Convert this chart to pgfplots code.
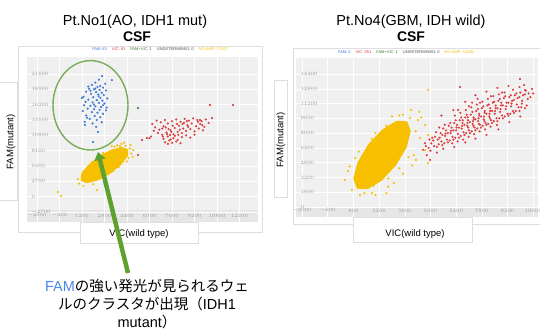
\documentclass[border=0pt]{standalone}
\usepackage{pgfplots}
\pgfplotsset{compat=1.18}
\usetikzlibrary{arrows.meta}
\usepackage{fontspec}
\setmainfont{Liberation Sans}
\newfontfamily\jp{Noto Sans CJK JP}
\definecolor{famblue}{HTML}{3C78D8}
\definecolor{vicred}{HTML}{E0393B}
\definecolor{noamp}{HTML}{F6C000}
\definecolor{fvgreen}{HTML}{3E7B2A}
\definecolor{annot}{HTML}{5DA130}
\definecolor{ellcol}{HTML}{78AD5A}
\definecolor{plotbg}{HTML}{F0F0F0}
\definecolor{bandbg}{HTML}{E6E6E6}
\definecolor{ticklab}{HTML}{9A9A9A}
\definecolor{cardline}{HTML}{DEDEDE}
\definecolor{txtblue}{HTML}{4A86E8}

\pgfplotsset{ddpcr/.style={
  scale only axis,
  axis line style={draw=none},
  major tick length=0pt,
  grid=major,
  grid style={white, line width=0.5pt},
  scaled ticks=false,
  tick label style={font=\fontsize{3.5}{4}\selectfont, text=ticklab},
  /pgf/number format/1000 sep={},
  yticklabel style={anchor=west, xshift=1pt},
  xticklabel style={anchor=south, yshift=1pt},
  clip=true},
  dot/.style={only marks, mark=*, mark size=0.85pt, color=#1, mark options={draw=none, fill=#1}}
}

\begin{document}
\begin{tikzpicture}
\useasboundingbox (0pt,0pt) rectangle (540pt,332pt);

% titles
\node[anchor=base, font=\fontsize{14.5}{16}\selectfont] at (135pt,306pt) {Pt.No1(AO, IDH1 mut)};
\node[anchor=base, font=\fontsize{14}{16}\selectfont\bfseries] at (137pt,290pt) {CSF};
\node[anchor=base, font=\fontsize{14.5}{16}\selectfont] at (411pt,306pt) {Pt.No4(GBM, IDH wild)};
\node[anchor=base, font=\fontsize{14}{16}\selectfont\bfseries] at (411pt,290pt) {CSF};

% cards
\draw[cardline, fill=white, line width=0.5pt] (18pt,100pt) rectangle (262pt,286pt);
\draw[cardline, fill=white, line width=0.5pt] (293pt,108pt) rectangle (541pt,284pt);
\fill[plotbg] (27pt,110pt) rectangle (258pt,275pt);
\fill[bandbg] (27pt,110pt) rectangle (258pt,122pt);
\fill[plotbg] (296pt,115pt) rectangle (538pt,274pt);
\fill[bandbg] (296pt,115pt) rectangle (538pt,125pt);

% label boxes
\draw[cardline, fill=white, line width=0.5pt] (-1pt,132pt) rectangle (17pt,250pt);
\draw[cardline, fill=white, line width=0.5pt] (80pt,89pt) rectangle (198pt,110pt);
\draw[cardline, fill=white, line width=0.5pt] (274pt,135pt) rectangle (287pt,252pt);
\draw[cardline, fill=white, line width=0.5pt] (353pt,90pt) rectangle (472pt,115pt);

% legends
\node[font=\fontsize{4}{5}\selectfont] at (160pt,283pt) {\textcolor{famblue}{FAM: 63}\hspace{5pt}\textcolor{vicred}{VIC: 81}\hspace{5pt}\textcolor{fvgreen}{FAM+VIC: 1}\hspace{5pt}\textcolor{black!70}{UNDETERMINED: 0}\hspace{5pt}\textcolor{noamp}{NO-AMP: 17007}};
\node[font=\fontsize{4}{5}\selectfont] at (406pt,280pt) {\textcolor{famblue}{FAM: 0}\hspace{5pt}\textcolor{vicred}{VIC: 551}\hspace{5pt}\textcolor{fvgreen}{FAM+VIC: 1}\hspace{5pt}\textcolor{black!70}{UNDETERMINED: 0}\hspace{5pt}\textcolor{noamp}{NO-AMP: 15495}};

% axis labels
\node[rotate=90, font=\fontsize{9.5}{11}\selectfont] at (11pt,190pt) {FAM(mutant)};
\node[font=\fontsize{9.5}{11}\selectfont] at (139pt,98pt) {VIC(wild type)};
\node[rotate=90, font=\fontsize{9.5}{11}\selectfont] at (281pt,192pt) {FAM(mutant)};
\node[font=\fontsize{9.5}{11}\selectfont] at (415pt,98pt) {VIC(wild type)};

% ===== Left plot =====
\begin{axis}[ddpcr, at={(27pt,110pt)}, anchor=south west, width=231pt, height=165pt,
  xmin=-2711, xmax=13713, ymin=-4460, ymax=24600,
  xtick={-2000,-400,...,12400}, ytick={-2700,0,...,21600}]
% NO-AMP dense cluster (area)
\addplot[fill=noamp, draw=noamp, line width=0.8pt] coordinates {
(4456,8300) (4435,7209) (3965,5678) (3197,4111) (2316,2932) (1562,2457)
(1143,2844) (1164,3935) (1633,5466) (2401,7033) (3283,8212) (4036,8687)} -- cycle;
\addplot[dot=noamp] coordinates {
(-507,820) (-294,116) (2266,1172) (4300,9000) (4600,8500) (4000,9300) (3700,9050)
(4700,7600) (4500,6800) (3500,8800) (4850,8200) (4200,9500) (4650,9100) (3900,8900)
(4800,7000) (4400,6200) (1000,2300) (900,3100) (1300,1900) (2000,2200) (2700,3300)
(3400,4500) (3800,5200) (1300,4500) (1900,6100) (2700,7700) (3300,8900) (4100,7900)};
% FAM
\addplot[dot=famblue] coordinates {
(2620,21240) (3330,20530) (2400,20600) (2150,20100) (2850,19900) (1900,19700) (2500,19500)
(2300,19300) (2700,19200) (1700,19000) (2050,18900) (2450,18800) (2900,18700) (1500,18500)
(2200,18400) (2600,18300) (1850,18100) (2350,18000) (2750,17900) (1300,17600) (1200,17360)
(2000,17500) (2500,17400) (3000,17300) (1650,17100) (2250,17000) (2650,16900) (1450,16700)
(1950,16600) (2400,16500) (2800,16400) (1350,16100) (1800,16000) (2150,15900) (2550,15800)
(2950,15700) (1600,15500) (2050,15400) (2450,15300) (1250,15100) (1900,14900) (2300,14800)
(2700,14600) (1500,14300) (2100,14200) (2500,14000) (1750,13700) (2250,13500) (1400,13200)
(2600,13100) (1950,12900) (1413,12610) (2337,11380) (1980,9620) (2150,19050) (2380,17700)
(1800,18650) (2700,16100) (2050,16250) (1550,13900) (2200,12300) (2900,15200) (1650,19400)};
% VIC
\addplot[dot=vicred] coordinates {
(5466,9970) (5820,10320) (5180,7330) (10300,16130) (11936,16130)
(6200,12800) (6500,13400) (6800,13100) (7100,13500) (6400,12200) (6700,11800) (7000,12400)
(7300,12900) (7600,13300) (7900,13600) (8200,13200) (8500,13700) (8800,13400) (9100,13800)
(9400,13500) (9700,13300) (10000,13600) (10440,13840) (9590,13490)
(6900,10900) (7200,11300) (7500,11700) (7800,12100) (8100,12500) (8400,12000) (8700,12600)
(9000,12900) (9300,12400) (9600,12800) (9900,12300) (10200,13000)
(7000,10200) (7300,10600) (7456,10850) (7700,11000) (8000,11400) (8300,11200) (8600,11600)
(8900,11900) (9200,11500) (9500,12000) (9800,11700)
(7100,9600) (7400,9900) (7700,10300) (8000,10000) (8300,10500) (8600,10800) (8900,10400)
(9200,10900) (7300,9300) (7600,9500) (7900,9700) (8200,9400) (7500,10100) (6600,11200)
(6300,11600) (6900,12000) (7150,12200) (7650,12500) (7350,11900) (8150,11800) (8450,13000)
(8750,12300) (7800,10700) (8050,10900) (6950,10600) (7250,11000) (7550,11400) (9450,13200)
(9750,12600) (8350,12800) (7950,12800) (8650,13300) (6100,10600) (6000,10300)};
% FAM+VIC
\addplot[dot=fvgreen] coordinates {(5180,15600)};
\end{axis}

% ===== Right plot =====
\begin{axis}[ddpcr, at={(296pt,115pt)}, anchor=south west, width=242pt, height=159pt,
  xmin=-2327, xmax=10862, ymin=-1083, ymax=16137,
  xtick={-2000,-600,...,10600}, ytick={0,1600,...,14400}]
\addplot[fill=noamp, draw=noamp, line width=0.8pt] coordinates {
(3717,9227) (3902,8187) (3684,6476) (3101,4527) (2327,2881) (1559,1971)
(1003,2036) (818,3076) (1041,4787) (1619,6736) (2398,8382) (3161,9292)} -- cycle;
\addplot[dot=noamp] coordinates {
(3886,9640) (4322,9420) (4700,8880) (4870,7800) (4700,6170) (4213,5090) (4431,7470)
(4867,12670) (4867,4765) (725,1840) (344,2924) (1161,1300) (1815,1516) (500,3900)
(2000,1300) (2700,2200) (3500,3600) (4100,5600) (4200,8200) (3500,10000) (2900,9800)
(2000,8000) (1100,6000) (600,4400) (4400,10300) (3300,9900) (2600,1500) (1400,1500)
(4000,4500) (4500,9700) (3950,10500) (3800,5400) (3300,4200) (2700,3100) (1900,2300)
(1300,5600) (1800,7400) (2600,8800) (3000,2600) (900,5300)};
\addplot[dot=vicred] coordinates {
(4600,6200) (4700,6900) (4900,6400) (4950,7300) (5050,6900)
(5200,6600) (5250,7600) (5150,7200) (5300,8100)
(5450,6800) (5500,7500) (5550,8000) (5600,7100) (5480,8600)
(5750,6900) (5800,7700) (5850,8300) (5900,7300) (5780,8900) (5820,7950)
(6050,7200) (6100,8000) (6150,8600) (6200,7600) (6080,9100) (6120,8250) (6180,6900)
(6350,7500) (6400,8300) (6450,8900) (6500,7900) (6380,9400) (6420,8600) (6480,7100) (6330,9900)
(6650,7700) (6700,8500) (6750,9100) (6800,8100) (6680,9700) (6720,8800) (6780,7300) (6630,10200) (6760,9400)
(6950,8000) (7000,8800) (7050,9400) (7100,8300) (6980,10000) (7020,9100) (7080,7600) (6930,10500) (7060,8600) (7040,9700)
(7250,8200) (7300,9000) (7350,9700) (7400,8600) (7280,10300) (7320,9300) (7380,7900) (7230,10800) (7360,9500) (7340,8800) (7270,11300)
(7550,8500) (7600,9300) (7650,9900) (7700,8900) (7580,10600) (7620,9600) (7680,8200) (7530,11100) (7660,10100) (7640,9000) (7570,11700)
(7850,8800) (7900,9500) (7950,10200) (8000,9100) (7880,10900) (7920,9800) (7980,8400) (7830,11400) (7960,10400) (7940,9300)
(8150,9000) (8200,9800) (8250,10400) (8300,9400) (8180,11100) (8220,10100) (8280,8700) (8130,11700) (8260,10700) (8240,9600)
(8450,9300) (8500,10100) (8550,10700) (8600,9600) (8480,11400) (8520,10400) (8628,8880) (8430,12000) (8560,11000)
(8750,9600) (8800,10300) (8850,11000) (8900,9900) (8780,11700) (8820,10600) (8730,12200) (8860,11300)
(9050,9800) (9100,10600) (9150,11300) (9200,10100) (9080,12000) (9120,10900) (9030,12400)
(9350,10100) (9400,10900) (9450,11500) (9500,10400) (9380,12100) (9420,11200)
(9650,10400) (9700,11100) (9750,11800) (9800,10800) (9680,12300)
(9950,10800) (10000,11500) (10050,12100) (9980,11200)
(10250,11000) (10300,11700) (10350,12300)
(6611,13000) (9881,13860) (10535,12780) (10150,12670) (5600,9900) (4800,5600) (4980,5100)
(5350,5900) (6250,10500) (6900,11400) (7450,12100) (8050,12500) (8650,12900) (9250,13100) (9850,13000)
(5700,6300) (6300,6500) (6900,7000) (7450,7400) (8050,7800) (8700,8400) (9300,9200) (9900,9800)
(4750,6600) (5100,7500) (5400,7300) (5650,7800) (5950,8000) (6250,8300) (6550,8600) (6850,8900)
(7150,9200) (7450,9500) (7750,9800) (8050,10100) (8350,10400) (8650,10700) (8950,11000) (9250,11300)
(9550,11600) (9850,11900) (10150,12200)
(5000,6100) (5350,6500) (5650,6700) (5950,7000) (6250,7300) (6550,7500) (6850,7800) (7150,8000)
(7450,8300) (7750,8600) (8050,8900) (8350,9100) (8650,9300) (8950,9600) (9250,9900) (9550,10200)
(9850,10400) (10150,10700)
(5700,8500) (6000,8800) (6300,9100) (6600,9400) (6900,9700) (7200,10000) (7500,10400) (7800,10700)
(8100,11000) (8400,11300) (8700,11500) (9000,11800) (9300,11900) (9600,12100) (9900,12400) (10200,12600)
(6500,10500) (7100,10900) (7700,11300) (8300,12000) (8900,12400) (9500,12700) (10100,13200) (10450,11900) (10600,12300)};
\end{axis}

% annotations
\draw[ellcol, line width=1.4pt] (90.5pt,226.7pt) ellipse [x radius=37.5pt, y radius=44.7pt];
\draw[annot, line width=4.5pt, -{Triangle[width=11pt,length=8pt]}] (128pt,59pt) -- (98pt,180pt);
\node[anchor=north, inner sep=0pt, align=center, font=\fontsize{14.5}{18}\selectfont] at (147pt,53pt)
 {\textcolor{txtblue}{FAM}{\jp の強い発光が見られるウェ}\\{\jp ルのクラスタが出現（}IDH1\\mutant{\jp ）}};
\end{tikzpicture}
\end{document}
